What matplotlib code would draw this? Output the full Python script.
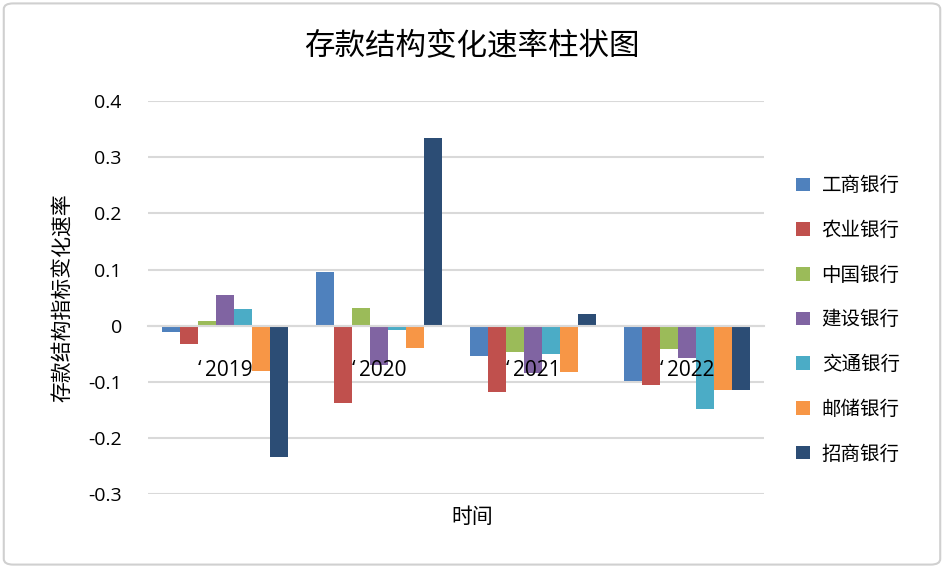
import matplotlib.pyplot as plt
import numpy as np
from matplotlib.patches import FancyBboxPatch

plt.rcParams['font.family'] = ['Noto Sans CJK SC', 'DejaVu Sans']

years = ['\u2018\u20092019', '\u2018\u20092020', '\u2018\u20092021', '\u2018\u20092022']
banks = ['工商银行', '农业银行', '中国银行', '建设银行', '交通银行', '邮储银行', '招商银行']
colors = ['#4F81BD', '#C0504D', '#9BBB59', '#8064A2', '#4BACC6', '#F79646', '#2C4D75']

# change rate per bank, one value per year
icbc = [-0.011, 0.095, -0.054, -0.098]
abc = [-0.032, -0.137, -0.118, -0.106]
boc = [0.008, 0.031, -0.047, -0.041]
ccb = [0.054, -0.070, -0.084, -0.058]
bocom = [0.029, -0.007, -0.050, -0.149]
psbc = [-0.080, -0.039, -0.082, -0.115]
cmb = [-0.234, 0.335, 0.021, -0.114]
values = [icbc, abc, boc, ccb, bocom, psbc, cmb]

fig = plt.figure(figsize=(9.44, 5.68), dpi=100)
ax = fig.add_axes([0.157, 0.130, 0.652, 0.692])

x = np.arange(len(years))
w = 0.82 / len(banks)
for i, (name, vals) in enumerate(zip(banks, values)):
    ax.bar(x + (i - 3) * w, vals, width=w, color=colors[i], label=name, zorder=2)

ax.set_xlim(-0.5, 3.5)
ax.set_ylim(-0.3, 0.4)
ax.set_yticks(np.arange(-0.3, 0.41, 0.1))
ax.set_yticklabels(['-0.3', '-0.2', '-0.1', '0', '0.1', '0.2', '0.3', '0.4'],
                   fontsize=14, family=['Open Sans', 'DejaVu Sans'])
ax.grid(axis='y', color='#d9d9d9', linewidth=1.5, zorder=0)
for s in ['top', 'right', 'left']:
    ax.spines[s].set_visible(False)
ax.spines['bottom'].set_position(('data', 0))
ax.spines['bottom'].set_color('#d9d9d9')
ax.spines['bottom'].set_linewidth(1.5)
ax.set_xticks(x)
ax.set_xticklabels(years, fontsize=15, family=['Open Sans', 'DejaVu Sans'])
ax.tick_params(axis='x', length=0, pad=25)
ax.tick_params(axis='y', length=0, pad=19)
ax.xaxis.set_zorder(5)

ax.set_ylabel('存款结构指标变化速率', fontsize=15, labelpad=10)
fig.text(0.5, 0.09, '时间', fontsize=15, ha='center', va='center')
fig.suptitle('存款结构变化速率柱状图', fontsize=22, y=0.945)

fig.legend(loc='center left', bbox_to_anchor=(0.825, 0.437), frameon=False,
           fontsize=14, handlelength=0.7, handleheight=0.7, labelspacing=1.22,
           handletextpad=0.6)

border = FancyBboxPatch((0.004, 0.006), 0.992, 0.988, boxstyle='round,pad=0,rounding_size=0.01',
                        transform=fig.transFigure, fill=False, edgecolor='#d0d0d0', linewidth=1.5)
fig.patches.append(border)

fig.savefig('out.png', dpi=100)
